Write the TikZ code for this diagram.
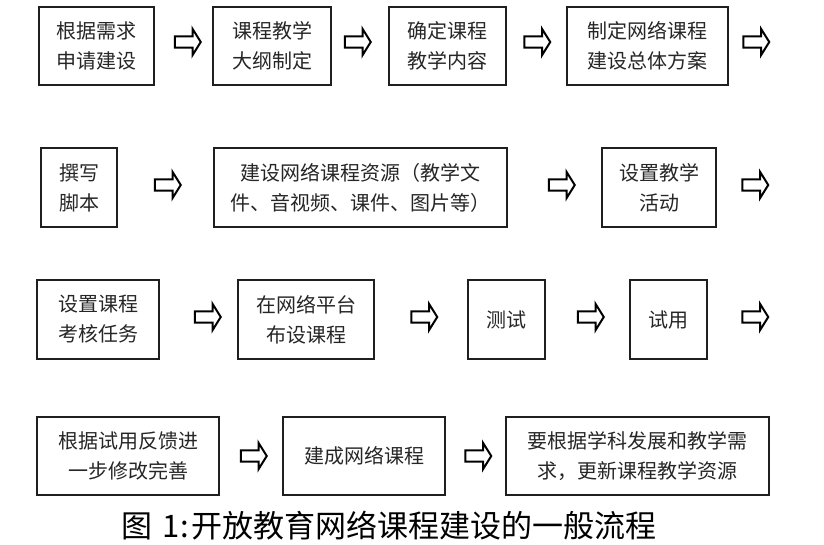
\documentclass[tikz,border=0pt]{standalone}
\usepackage{fontspec}
\setmainfont{Noto Sans CJK SC}
\usetikzlibrary{shapes.arrows}
\tikzset{
  stepbox/.style={draw=black!88, line width=1.6pt, fill=white, align=center,
    inner sep=0pt, font=\fontsize{20}{30}\selectfont, text=black!85},
  blockarrow/.style={single arrow, draw=black, line width=2pt, fill=white,
    minimum height=26pt, minimum width=26pt, inner sep=4.6pt,
    single arrow head extend=7.5pt, single arrow tip angle=116},
  captionstyle/.style={font=\fontsize{31}{34}\selectfont, text=black,
    inner sep=0pt, text height=24pt, text depth=4pt}
}
\begin{document}
\begin{tikzpicture}[x=1pt,y=-1pt]
\useasboundingbox (0,0) rectangle (824,544);
% Row 1
\node[stepbox, minimum width=115pt, minimum height=78pt] (b1) at (96.5,46) {根据需求\\申请建设};
\node[stepbox, minimum width=118pt, minimum height=78pt] (b2) at (272,46) {课程教学\\大纲制定};
\node[stepbox, minimum width=117pt, minimum height=78pt] (b3) at (447.5,46) {确定课程\\教学内容};
\node[stepbox, minimum width=161pt, minimum height=78pt] (b4) at (647.5,46) {制定网络课程\\建设总体方案};
\node[blockarrow] (a1) at (186,42) {};
\node[blockarrow] (a2) at (356,42) {};
\node[blockarrow] (a3) at (535.5,42) {};
\node[blockarrow] (a4) at (754.5,42) {};
% Row 2
\node[stepbox, minimum width=76pt, minimum height=79pt] (c1) at (79,187.5) {撰写\\脚本};
\node[stepbox, minimum width=293pt, minimum height=79pt] (c2) at (360.5,187.5) {建设网络课程资源（教学文\\件、音视频、课件、图片等）};
\node[stepbox, minimum width=114pt, minimum height=79pt] (c3) at (659,187.5) {设置教学\\活动};
\node[blockarrow] (a5) at (166,185) {};
\node[blockarrow] (a6) at (560,185) {};
\node[blockarrow] (a7) at (753.5,185) {};
% Row 3
\node[stepbox, minimum width=122pt, minimum height=79pt] (d1) at (98,319.5) {设置课程\\考核任务};
\node[stepbox, minimum width=136pt, minimum height=79pt] (d2) at (306,319.5) {在网络平台\\布设课程};
\node[stepbox, minimum width=77pt, minimum height=79pt] (d3) at (506.5,319.5) {测试};
\node[stepbox, minimum width=77pt, minimum height=79pt] (d4) at (668.5,319.5) {试用};
\node[blockarrow] (a8) at (206,317) {};
\node[blockarrow] (a9) at (422.5,317) {};
\node[blockarrow] (a10) at (589,317) {};
\node[blockarrow] (a11) at (753.5,317) {};
% Row 4
\node[stepbox, minimum width=182pt, minimum height=78pt] (e1) at (128,456) {根据试用反馈进\\一步修改完善};
\node[stepbox, minimum width=162pt, minimum height=78pt] (e2) at (364,456) {建成网络课程};
\node[stepbox, minimum width=263pt, minimum height=78pt] (e3) at (637.5,456) {要根据学科发展和教学需\\求，更新课程教学资源};
\node[blockarrow] (a12) at (252,456) {};
\node[blockarrow] (a13) at (476.5,456) {};
% Caption
\node[captionstyle] (cap) at (389,527) {图\hspace{0.35em}1:\hspace{0.1em}开放教育网络课程建设的一般流程};
\end{tikzpicture}
\end{document}
